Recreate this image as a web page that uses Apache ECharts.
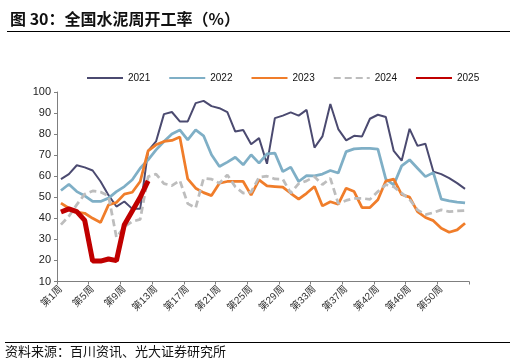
<!DOCTYPE html>
<html><head><meta charset="utf-8">
<script src="https://cdn.jsdelivr.net/npm/echarts@6/dist/echarts.min.js"></script>
<style>html,body{margin:0;padding:0;background:#fff}#c{width:516px;height:363px}</style>
</head><body><div id="c"></div>
<script>
const weeks = [1,2,3,4,5,6,7,8,9,10,11,12,13,14,15,16,17,18,19,20,21,22,23,24,25,26,27,28,29,30,31,32,33,34,35,36,37,38,39,40,42,43,44,45,46,47,48,49,50,51,52,53];
const categories = weeks.map(w => '第' + w + '周');
const seriesNames = ['2021','2022','2023','2024','2025'];
const y2021 = [58.6,61,65.2,64.2,62.7,57.5,51,45.6,48,44.5,44.5,72,76.5,89.5,90.5,86,86,94.7,95.8,93.3,92.3,90.4,81.2,82,75.2,78.1,65.9,87.6,88.8,90.3,88.8,91.5,73.6,78.9,94.3,82.4,77,79.2,78.9,87.3,89.2,88.1,72,67.4,82.5,74.4,75.4,62.2,61,59.1,56.7,54];
const y2022 = [53.2,56.2,52.7,50.7,48,48,49.6,52.7,55.1,58.3,63.8,67.8,72.5,76.5,80.1,82,77.3,82,79.2,70.2,64.6,66.7,69,65.4,70.2,66.2,70.6,71,62.2,64.3,57.5,60.3,60.2,61,62.7,61.5,71.7,73,73.2,73.2,72.9,58.6,55.9,64.9,67.8,63.8,59.8,61.7,49.1,48.3,47.7,47.3];
const y2023 = [47.2,44.8,42.9,42.4,40,38,46.4,47.5,51.5,52.4,57.5,72,74.9,76.5,77,78.6,58.7,54.3,52.2,50.8,56.7,57.5,57.5,57.5,51,58.3,55.4,55.1,54.8,51.9,49.1,51.9,55.1,45.9,47.9,46.7,54.3,52.7,45.1,45.1,48.8,57.7,58.6,51.3,50.1,43.2,40.4,38.9,35.3,33.4,34.5,37.7];
const y2024 = [37,41,46.5,51.5,53,52.5,50.7,31,36,38.5,39.5,59.8,61,56.5,55.5,58,47,45,59,58.6,56.7,60.6,55,52,52.5,59.5,60,58.7,58.6,52,56.5,57.8,59.8,56,59,47,48.5,49.5,49.5,49,52.7,56,55,52,49,44,41.8,42.7,44,43.2,43.5,43.7];
const y2025 = [43,44.5,43.2,39,19.7,19.7,20.7,19.9,37,43.5,50,57.8];
const yTicks = {min:10, max:100, interval:10};

const FONT = "'Liberation Sans', 'Noto Sans CJK SC', sans-serif";
const chart = echarts.init(document.getElementById('c'));
chart.setOption({
  animation:false,
  backgroundColor:'#fff',
  textStyle:{fontFamily:FONT},
  title:{text:'图 30：全国水泥周开工率（%）', left:5, top:6,
    textStyle:{fontSize:16, fontWeight:'bold', color:'#111', fontFamily:"'Noto Sans CJK SC', sans-serif"}},
  graphic:[
    {type:'line', shape:{x1:7,y1:31.5,x2:510,y2:31.5}, style:{stroke:'#000', lineWidth:1}},
    {type:'line', shape:{x1:5,y1:342.5,x2:510,y2:342.5}, style:{stroke:'#000', lineWidth:1}},
    {type:'text', left:5, top:345, style:{text:'资料来源：百川资讯、光大证券研究所', fontSize:13, fill:'#111', fontFamily:"'Noto Sans CJK SC', sans-serif"}}
  ],
  legend:{left:81, top:68, itemWidth:36, itemHeight:10, itemGap:18,
    itemStyle:{opacity:0},
    textStyle:{fontSize:10, color:'#111'},
    data:seriesNames},
  grid:{left:57, right:47, top:92, bottom:81.5, containLabel:false},
  xAxis:{type:'category', data:categories, boundaryGap:true,
    axisLine:{lineStyle:{color:'#7f7f7f', width:1}},
    axisTick:{show:true, interval:3, length:3, lineStyle:{color:'#7f7f7f'}},
    axisLabel:{interval:3, rotate:45, fontSize:10, color:'#333', margin:6}},
  yAxis:{type:'value', min:yTicks.min, max:yTicks.max, interval:yTicks.interval,
    splitLine:{show:false},
    axisLine:{show:true, lineStyle:{color:'#7f7f7f', width:1}},
    axisTick:{show:true, length:3, lineStyle:{color:'#7f7f7f'}},
    axisLabel:{fontSize:11, color:'#222', margin:6}},
  series:[
    {name:'2021', type:'line', data:y2021, symbol:'none', lineStyle:{color:'#4b4a70', width:2}, itemStyle:{color:'#4b4a70'}},
    {name:'2022', type:'line', data:y2022, symbol:'none', lineStyle:{color:'#7fafc6', width:2.75}, itemStyle:{color:'#7fafc6'}},
    {name:'2023', type:'line', data:y2023, symbol:'none', lineStyle:{color:'#f07d2a', width:2.75}, itemStyle:{color:'#f07d2a'}},
    {name:'2024', type:'line', data:y2024, symbol:'none', lineStyle:{color:'#bdbdbd', width:2.75, type:[7,4]}, itemStyle:{color:'#bdbdbd'}},
    {name:'2025', type:'line', data:y2025, symbol:'none', lineStyle:{color:'#c00000', width:5}, itemStyle:{color:'#c00000'}}
  ]
});
</script></body></html>
